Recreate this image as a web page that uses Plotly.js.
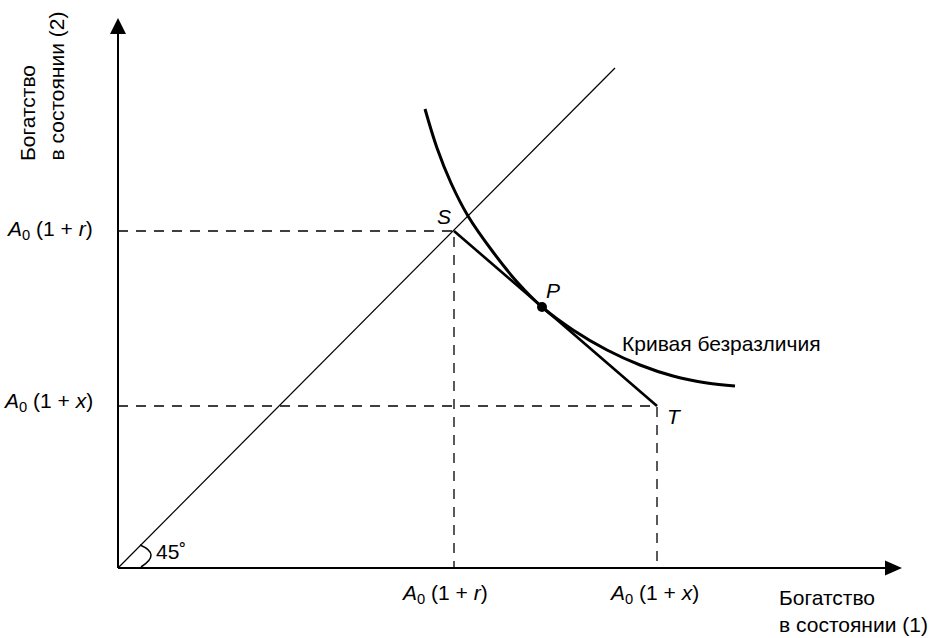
<!DOCTYPE html>
<html><head><meta charset="utf-8">
<script src="https://cdn.plot.ly/plotly-3.0.1.min.js"></script>
<style>html,body{margin:0;padding:0;background:#fff;}#chart{width:943px;height:638px;}</style>
</head><body><div id="chart"></div>
<script>
// Wealth in state (1) on x, wealth in state (2) on y; origin at (0, 0)
const axisTipX = 784;
const axisTipY = 550;
const diagonalX = [0, 497];
const diagonalY = [0, 500];
const pointS = [336, 337];
const pointT = [539, 162];
const pointP = [424, 261];
const curveX = [307, 319, 333, 350, 375, 400, 424, 455, 489, 522, 555, 589, 617];
const curveY = [459, 420, 385, 352, 316, 285, 261, 238, 218, 203, 192, 185, 182];
const tickLabelR = '<i>A</i><sub>0</sub> (1 + <i>r</i>)';
const tickLabelX = '<i>A</i><sub>0</sub> (1 + <i>x</i>)';
const xTitleLines = ['Богатство', 'в состоянии (1)'];
const yTitleLines = ['Богатство', 'в состоянии (2)'];
const curveLabel = 'Кривая безразличия';
const angleLabel = '45˚';
const pointLabels = ['S', 'P', 'T'];

const FONT = {family: 'Liberation Sans, Arial, sans-serif', size: 21, color: '#000'};
const dash = '10px,8px';

const traces = [
  // axes
  {x: [0, axisTipX - 10], y: [0, 0], mode: 'lines', line: {color: '#000', width: 2}},
  {x: [0, 0], y: [0, axisTipY - 10], mode: 'lines', line: {color: '#000', width: 2}},
  // 45 degree line
  {x: diagonalX, y: diagonalY, mode: 'lines', line: {color: '#000', width: 1.2}},
  // dashed guides for S
  {x: [0, pointS[0], pointS[0]], y: [pointS[1], pointS[1], 0], mode: 'lines', line: {color: '#000', width: 1.3, dash: dash}},
  // dashed guides for T
  {x: [0, pointT[0], pointT[0]], y: [pointT[1], pointT[1], 0], mode: 'lines', line: {color: '#000', width: 1.3, dash: dash}},
  // indifference curve
  {x: curveX, y: curveY, mode: 'lines', line: {color: '#000', width: 3, shape: 'spline', smoothing: 1}},
  // budget line S-T
  {x: [pointS[0], pointT[0]], y: [pointS[1], pointT[1]], mode: 'lines', line: {color: '#000', width: 2.6}},
  // point P
  {x: [pointP[0]], y: [pointP[1]], mode: 'markers', marker: {color: '#000', size: 10}}
];

const ann = (x, y, text, xa, ya, extra) => Object.assign({x, y, xref: 'x', yref: 'y', text, showarrow: false, xanchor: xa, yanchor: ya, font: FONT}, extra || {});

const annotations = [
  ann(-23, pointS[1] + 1, tickLabelR, 'right', 'middle'),
  ann(-23, pointT[1] + 4, tickLabelX, 'right', 'middle'),
  ann(pointS[0] - 10, -26, tickLabelR, 'center', 'middle'),
  ann(pointT[0] - 3, -26, tickLabelX, 'center', 'middle'),
  ann(659, -29, xTitleLines[0], 'left', 'middle'),
  ann(659, -56, xTitleLines[1], 'left', 'middle'),
  ann(-91, 405, yTitleLines[0], 'center', 'bottom', {textangle: -90}),
  ann(-62, 405, yTitleLines[1], 'center', 'bottom', {textangle: -90}),
  ann(pointS[0] - 10, pointS[1] + 15, '<i>' + pointLabels[0] + '</i>', 'center', 'middle'),
  ann(pointP[0] + 11, pointP[1] + 17, '<i>' + pointLabels[1] + '</i>', 'center', 'middle'),
  ann(pointT[0] + 17, pointT[1] - 10, '<i>' + pointLabels[2] + '</i>', 'center', 'middle'),
  ann(502, 225, curveLabel, 'left', 'middle'),
  ann(36, 17, angleLabel, 'left', 'middle')
];

const shapes = [
  {type: 'path', xref: 'x', yref: 'y', fillcolor: '#000', line: {width: 0},
   path: `M ${axisTipX} 0 L ${axisTipX - 17} 7.5 L ${axisTipX - 17} -7.5 Z`},
  {type: 'path', xref: 'x', yref: 'y', fillcolor: '#000', line: {width: 0},
   path: `M 0 ${axisTipY} L -8 ${axisTipY - 16} L 8 ${axisTipY - 16} Z`},
  {type: 'path', xref: 'x', yref: 'y', line: {color: '#000', width: 1.5},
   path: 'M 23 1 Q 43.5 14 22 23'}
];

const layout = {
  width: 943, height: 638,
  margin: {l: 0, r: 0, t: 0, b: 0},
  paper_bgcolor: '#fff', plot_bgcolor: '#fff',
  showlegend: false,
  xaxis: {range: [-118, 825], visible: false, fixedrange: true},
  yaxis: {range: [-70, 568], visible: false, fixedrange: true},
  annotations: annotations,
  shapes: shapes,
  font: FONT
};

Plotly.newPlot('chart', traces, layout, {staticPlot: true, displayModeBar: false});
</script>
</body></html>
